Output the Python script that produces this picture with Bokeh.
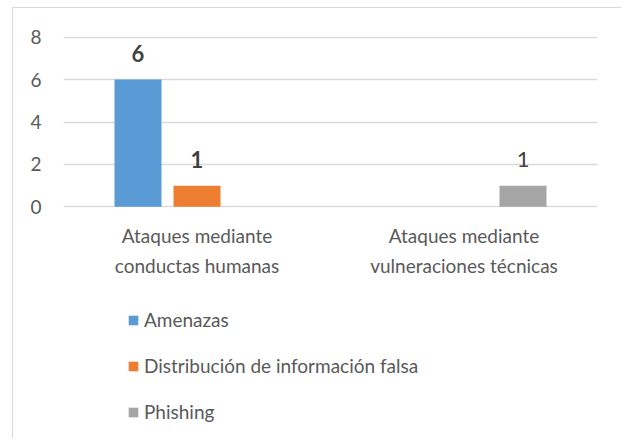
import numpy as np
from bokeh.plotting import figure
from bokeh.layouts import column
from bokeh.models import FactorRange, ColumnDataSource, Legend, LegendItem, FixedTicker, Range1d
from bokeh.transform import dodge
from bokeh.core.properties import value, field
from bokeh.embed import file_html
from bokeh.resources import INLINE

# ---- data ----
categories = ["Ataques mediante\nconductas humanas", "Ataques mediante\nvulneraciones técnicas"]
series = ["Amenazas", "Distribución de información falsa", "Phishing"]
amenazas = [6, np.nan]
distribucion = [1, np.nan]
phishing = [np.nan, 1]
label_style = ["bold", "normal"]  # data-label weight per category
y_ticks = [0, 2, 4, 6, 8]

# ---- style ----
FONT = "Lato"
TXT = "#595959"
GRID = "#D9D9D9"
colors = ["#5B9BD5", "#ED7D31", "#A5A5A5"]
offsets = [-0.221, 0.0, 0.221]
BAR_W = 0.176
FS = "19px"
W = 608

p = figure(
    x_range=FactorRange(*categories, range_padding=0),
    y_range=Range1d(-0.03, 8.03),
    width=W, height=290,
    output_backend="svg", toolbar_location=None,
    min_border_left=50, min_border_right=24, min_border_top=28, min_border_bottom=91,
    outline_line_color=None,
)

# y axis
p.yaxis.ticker = FixedTicker(ticks=y_ticks)
p.yaxis.axis_line_color = None
p.yaxis.major_tick_line_color = None
p.yaxis.minor_tick_line_color = None
p.yaxis.major_tick_out = 0
p.yaxis.major_tick_in = 0
p.yaxis.major_label_standoff = 22
p.yaxis.major_label_text_font = FONT
p.yaxis.major_label_text_font_size = FS
p.yaxis.major_label_text_color = TXT

p.ygrid.ticker = FixedTicker(ticks=y_ticks)
p.ygrid.grid_line_color = GRID
p.ygrid.grid_line_width = 1.3
p.xgrid.grid_line_color = None

# x axis
p.xaxis.axis_line_color = None
p.xaxis.major_tick_line_color = None
p.xaxis.major_tick_out = 0
p.xaxis.major_tick_in = 0
p.xaxis.major_label_standoff = 16
p.xaxis.major_label_text_font = FONT
p.xaxis.major_label_text_font_size = FS
p.xaxis.major_label_text_color = TXT
p.xaxis.major_label_text_line_height = 1.33

source = ColumnDataSource(dict(cat=categories, s0=amenazas, s1=distribucion, s2=phishing))
keys = ["s0", "s1", "s2"]
vals = [amenazas, distribucion, phishing]

for i, name in enumerate(series):
    p.vbar(x=dodge("cat", offsets[i], range=p.x_range), top=keys[i], width=BAR_W,
           source=source, fill_color=colors[i], line_color=None)
    lx, ly, lt, ls = [], [], [], []
    for j, v in enumerate(vals[i]):
        if not np.isnan(v):
            lx.append(categories[j]); ly.append(v); lt.append(str(int(v))); ls.append(label_style[j])
    lsrc = ColumnDataSource(dict(x=lx, y=ly, t=lt, fs=ls))
    p.text(x=dodge("x", offsets[i], range=p.x_range), y="y", text="t", source=lsrc,
           text_font=value(FONT), text_font_size="22px", text_font_style=field("fs"),
           text_color="#404040", text_align="center", text_baseline="alphabetic", y_offset=-26)

# ---- legend panel (separate figure below the chart; its bars lie outside its view) ----
pl = figure(width=W, height=140, x_range=p.x_range, y_range=Range1d(20, 21),
            output_backend="svg", toolbar_location=None,
            x_axis_location=None, y_axis_location=None,
            min_border=0, outline_line_color=None)
pl.grid.visible = False
items = []
for i, name in enumerate(series):
    r = pl.vbar(x=dodge("cat", offsets[i], range=p.x_range), top=keys[i], width=BAR_W,
                source=source, fill_color=colors[i], line_color=None)
    items.append(LegendItem(label=name, renderers=[r]))
legend = Legend(items=items, location=(64, 15), orientation="vertical",
                glyph_width=12, glyph_height=12, label_standoff=5, spacing=23, label_height=23,
                padding=0, margin=0, border_line_color=None, background_fill_alpha=0,
                label_text_font=FONT, label_text_font_size=FS, label_text_color=TXT)
pl.add_layout(legend)

layout = column(p, pl, spacing=0, margin=(7, 0, 0, 12),
                styles={"border-top": "1px solid #D9D9D9", "border-left": "1px solid #D9D9D9"})

open("out.html", "w").write(file_html(layout, INLINE))
